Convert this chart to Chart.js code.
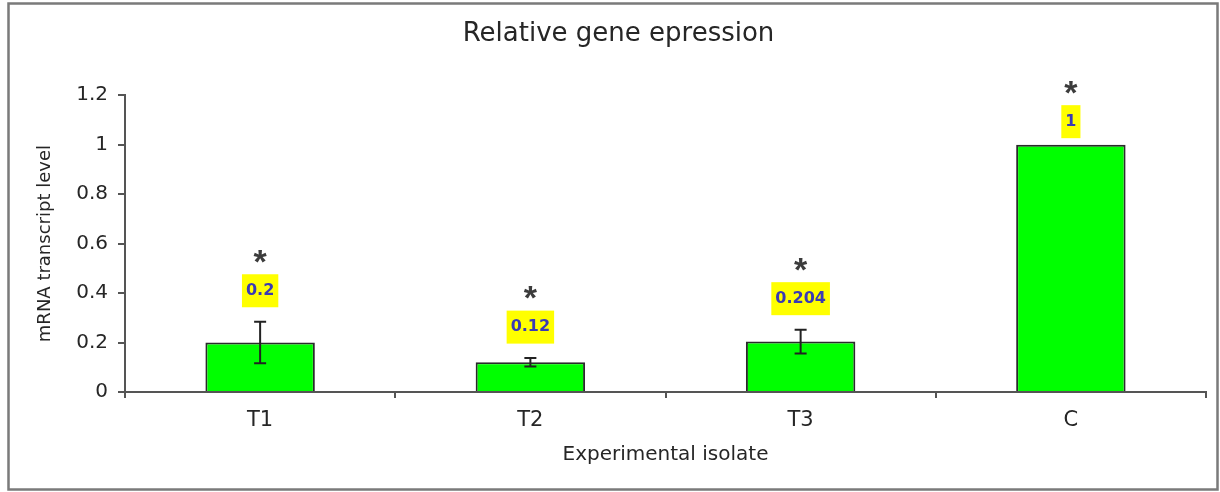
<!DOCTYPE html>
<html>
<head>
<meta charset="utf-8">
<script src="https://cdn.jsdelivr.net/npm/chart.js@4.4.1/dist/chart.umd.min.js"></script>
<style>
  html, body { margin: 0; padding: 0; background: #fff; }
  #wrap { width: 1220px; height: 492px; }
</style>
</head>
<body>
<div id="wrap"><canvas id="geneChart" width="1220" height="492"></canvas></div>
<script>
// Relative gene expression data
const isolates = ['T1', 'T2', 'T3', 'C'];
const expression = [0.2, 0.12, 0.204, 1];
const errors = [0.084, 0.017, 0.048, 0];
const valueLabels = ['0.2', '0.12', '0.204', '1'];
const significance = ['*', '*', '*', '*'];
const yTickLabels = ['0', '0.2', '0.4', '0.6', '0.8', '1', '1.2'];

const axisColor = '#555';
const textColor = '#262626';

// error bars, yellow value boxes and asterisks
const annotatePlugin = {
    id: 'annotate',
    beforeDraw: function(chart) {
        const ctx = chart.ctx;
        ctx.save();
        ctx.fillStyle = '#fff';
        ctx.fillRect(0, 0, chart.width, chart.height);
        ctx.strokeStyle = '#7a7a7a';
        ctx.lineWidth = 2.5;
        ctx.strokeRect(8.5, 3.5, 1209, 486);
        ctx.restore();
    },
    afterDatasetsDraw: function(chart) {
        const ctx = chart.ctx;
        const yScale = chart.scales.y;
        const meta = chart.getDatasetMeta(0);
        ctx.save();
        meta.data.forEach(function(bar, i) {
            const x = bar.x;
            const v = expression[i];
            const e = errors[i];
            if (e > 0) {
                const yTop = yScale.getPixelForValue(v + e);
                const yBot = yScale.getPixelForValue(v - e);
                ctx.strokeStyle = '#222';
                ctx.lineWidth = 2;
                ctx.beginPath();
                ctx.moveTo(x, yTop); ctx.lineTo(x, yBot);
                ctx.moveTo(x - 6, yTop); ctx.lineTo(x + 6, yTop);
                ctx.moveTo(x - 6, yBot); ctx.lineTo(x + 6, yBot);
                ctx.stroke();
            }
            const labelY = yScale.getPixelForValue(v + e) - (e > 0 ? 31 : 23);
            ctx.font = 'bold 16px "DejaVu Sans"';
            ctx.textAlign = 'center';
            ctx.textBaseline = 'middle';
            const w = ctx.measureText(valueLabels[i]).width + 8;
            const h = 33;
            ctx.fillStyle = '#ffff00';
            ctx.fillRect(x - w / 2, labelY - h / 2, w, h);
            ctx.fillStyle = '#3a3ab5';
            ctx.fillText(valueLabels[i], x, labelY);

            ctx.font = 'bold 34px "Liberation Sans"';
            ctx.fillStyle = '#3c3c3c';
            ctx.fillText(significance[i], x, labelY - 27);
        });
        ctx.restore();
    }
};

const ctx = document.getElementById('geneChart');
new Chart(ctx, {
    type: 'bar',
    data: {
        labels: isolates,
        datasets: [{
            label: 'mRNA transcript level',
            data: expression,
            backgroundColor: '#00ff00',
            borderColor: '#2a2a2a',
            borderWidth: 2,
            barPercentage: 0.405,
            categoryPercentage: 1.0
        }]
    },
    options: {
        responsive: false,
        animation: false,
        layout: {
            padding: { left: 31, right: 14, top: 3, bottom: 0 }
        },
        plugins: {
            legend: { display: false },
            tooltip: { enabled: false },
            title: {
                display: true,
                text: 'Relative gene epression',
                color: textColor,
                font: { family: 'DejaVu Sans', size: 26, weight: 'normal' },
                padding: { top: 16, bottom: 45 }
            }
        },
        scales: {
            x: {
                grid: {
                    offset: true,
                    drawOnChartArea: false,
                    drawTicks: true,
                    tickLength: 6,
                    color: axisColor,
                    lineWidth: 2
                },
                border: { display: true, color: axisColor, width: 2 },
                ticks: {
                    color: textColor,
                    padding: 10,
                    font: { family: 'DejaVu Sans', size: 21 }
                },
                title: {
                    display: true,
                    text: 'Experimental isolate',
                    color: textColor,
                    font: { family: 'DejaVu Sans', size: 20 },
                    padding: { top: 4, bottom: 25 }
                },
                afterFit: function(scale) { scale.height = 100; }
            },
            y: {
                min: 0,
                max: 1.2,
                grid: {
                    drawOnChartArea: false,
                    drawTicks: true,
                    tickLength: 7,
                    color: axisColor,
                    lineWidth: 2
                },
                border: { display: true, color: axisColor, width: 2 },
                ticks: {
                    stepSize: 0.2,
                    color: textColor,
                    padding: 10,
                    font: { family: 'DejaVu Sans', size: 20 },
                    callback: function(value, index) { return yTickLabels[index]; }
                },
                title: {
                    display: true,
                    text: 'mRNA transcript level',
                    color: textColor,
                    font: { family: 'DejaVu Sans', size: 18 },
                    padding: { top: 4, bottom: 4 }
                },
                afterFit: function(scale) { scale.width = 94; }
            }
        }
    },
    plugins: [annotatePlugin]
});
</script>
</body>
</html>
